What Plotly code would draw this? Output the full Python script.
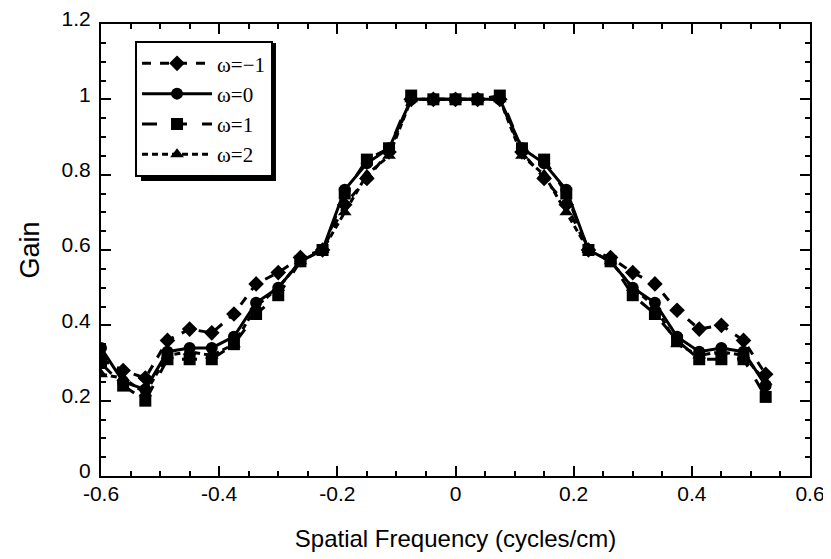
import plotly.graph_objects as go

# spatial frequency grid (cycles/cm)
freq = [-0.6, -0.5625, -0.525, -0.4875, -0.45, -0.4125, -0.375, -0.3375, -0.3, -0.2625,
        -0.225, -0.1875, -0.15, -0.1125, -0.075, -0.0375, 0.0, 0.0375, 0.075, 0.1125,
        0.15, 0.1875, 0.225, 0.2625, 0.3, 0.3375, 0.375, 0.4125, 0.45, 0.4875, 0.525]

gain_wm1 = [0.31, 0.28, 0.26, 0.36, 0.39, 0.38, 0.43, 0.51, 0.54, 0.58,
            0.60, 0.72, 0.79, 0.86, 1.00, 1.00, 1.00, 1.00, 1.00, 0.86,
            0.79, 0.72, 0.60, 0.58, 0.54, 0.51, 0.44, 0.39, 0.40, 0.36, 0.27]
gain_w0 = [0.34, 0.25, 0.23, 0.33, 0.34, 0.34, 0.37, 0.46, 0.50, 0.57,
           0.60, 0.76, 0.83, 0.87, 1.00, 1.00, 1.00, 1.00, 1.00, 0.87,
           0.83, 0.76, 0.60, 0.57, 0.50, 0.46, 0.37, 0.33, 0.34, 0.33, 0.24]
gain_w1 = [0.30, 0.24, 0.20, 0.31, 0.31, 0.31, 0.35, 0.43, 0.48, 0.57,
           0.60, 0.75, 0.84, 0.87, 1.01, 1.00, 1.00, 1.00, 1.01, 0.87,
           0.84, 0.75, 0.60, 0.57, 0.48, 0.43, 0.36, 0.31, 0.31, 0.31, 0.21]
gain_w2 = [0.27, 0.26, 0.22, 0.32, 0.33, 0.32, 0.35, 0.45, 0.50, 0.57,
           0.60, 0.70, 0.80, 0.85, 1.00, 1.00, 1.00, 1.00, 1.00, 0.85,
           0.80, 0.70, 0.60, 0.57, 0.50, 0.45, 0.35, 0.32, 0.33, 0.32, 0.25]

series_names = ["ω=−1", "ω=0", "ω=1", "ω=2"]
series_symbols = ["diamond", "circle", "square", "triangle-up"]
series_dash = ["dash", "solid", "longdash", "6px,4px"]

x_tickvals = [-0.6, -0.4, -0.2, 0, 0.2, 0.4, 0.6]
x_ticktext = ["-0.6", "-0.4", "-0.2", "0", "0.2", "0.4", "0.6"]
y_tickvals = [0, 0.2, 0.4, 0.6, 0.8, 1.0, 1.2]
y_ticktext = ["0", "0.2", "0.4", "0.6", "0.8", "1", "1.2"]

SANS = "Liberation Sans, Arial, sans-serif"

fig = go.Figure()
for name, vals, sym, dash in zip(series_names, [gain_wm1, gain_w0, gain_w1, gain_w2],
                                 series_symbols, series_dash):
    fig.add_trace(go.Scatter(
        x=freq, y=vals, name=name, mode="lines+markers",
        line=dict(color="black", width=3, dash=dash),
        marker=dict(symbol=sym, size=12, color="black"),
    ))

tick_common = dict(
    showline=True, linecolor="black", linewidth=2, mirror="allticks",
    ticks="inside", ticklen=10, tickwidth=2, tickcolor="black",
    showgrid=False, zeroline=False, automargin=False,
    minor=dict(dtick=0.05, ticks="inside", ticklen=5, tickwidth=2, tickcolor="black", showgrid=False),
)

# page body has an 8px margin, so the figure is sized/offset to fit the 831x559 window
fig.update_layout(
    width=823, height=551,
    margin=dict(l=93, r=21, t=16, b=83),
    paper_bgcolor="white", plot_bgcolor="white",
    xaxis=dict(range=[-0.6, 0.6], tickvals=x_tickvals, ticktext=x_ticktext,
               tickfont=dict(family=SANS, size=21, color="black"),
               ticklabelstandoff=-2,
               title=dict(text="Spatial Frequency (cycles/cm)", standoff=26,
                          font=dict(family=SANS, size=24, color="black")),
               **tick_common),
    yaxis=dict(range=[0, 1.2], tickvals=y_tickvals, ticktext=y_ticktext,
               tickfont=dict(family=SANS, size=21, color="black"),
               ticklabelshift=-5, ticklabelstandoff=4, ticklabeloverflow="allow",
               title=dict(text="Gain", standoff=14,
                          font=dict(family=SANS, size=27, color="black")),
               **tick_common),
    legend=dict(x=0.048, y=0.962, xanchor="left", yanchor="top",
                bgcolor="white", bordercolor="black", borderwidth=2,
                itemwidth=70,
                font=dict(family="Liberation Serif, Times New Roman, serif", size=21, color="black")),
    shapes=[dict(type="rect", xref="paper", yref="paper",
                 x0=0.0564, x1=0.2468, y0=0.6527, y1=0.958,
                 fillcolor="black", line=dict(width=0), layer="above")],
    showlegend=True,
)

fig.write_html("out.html")
